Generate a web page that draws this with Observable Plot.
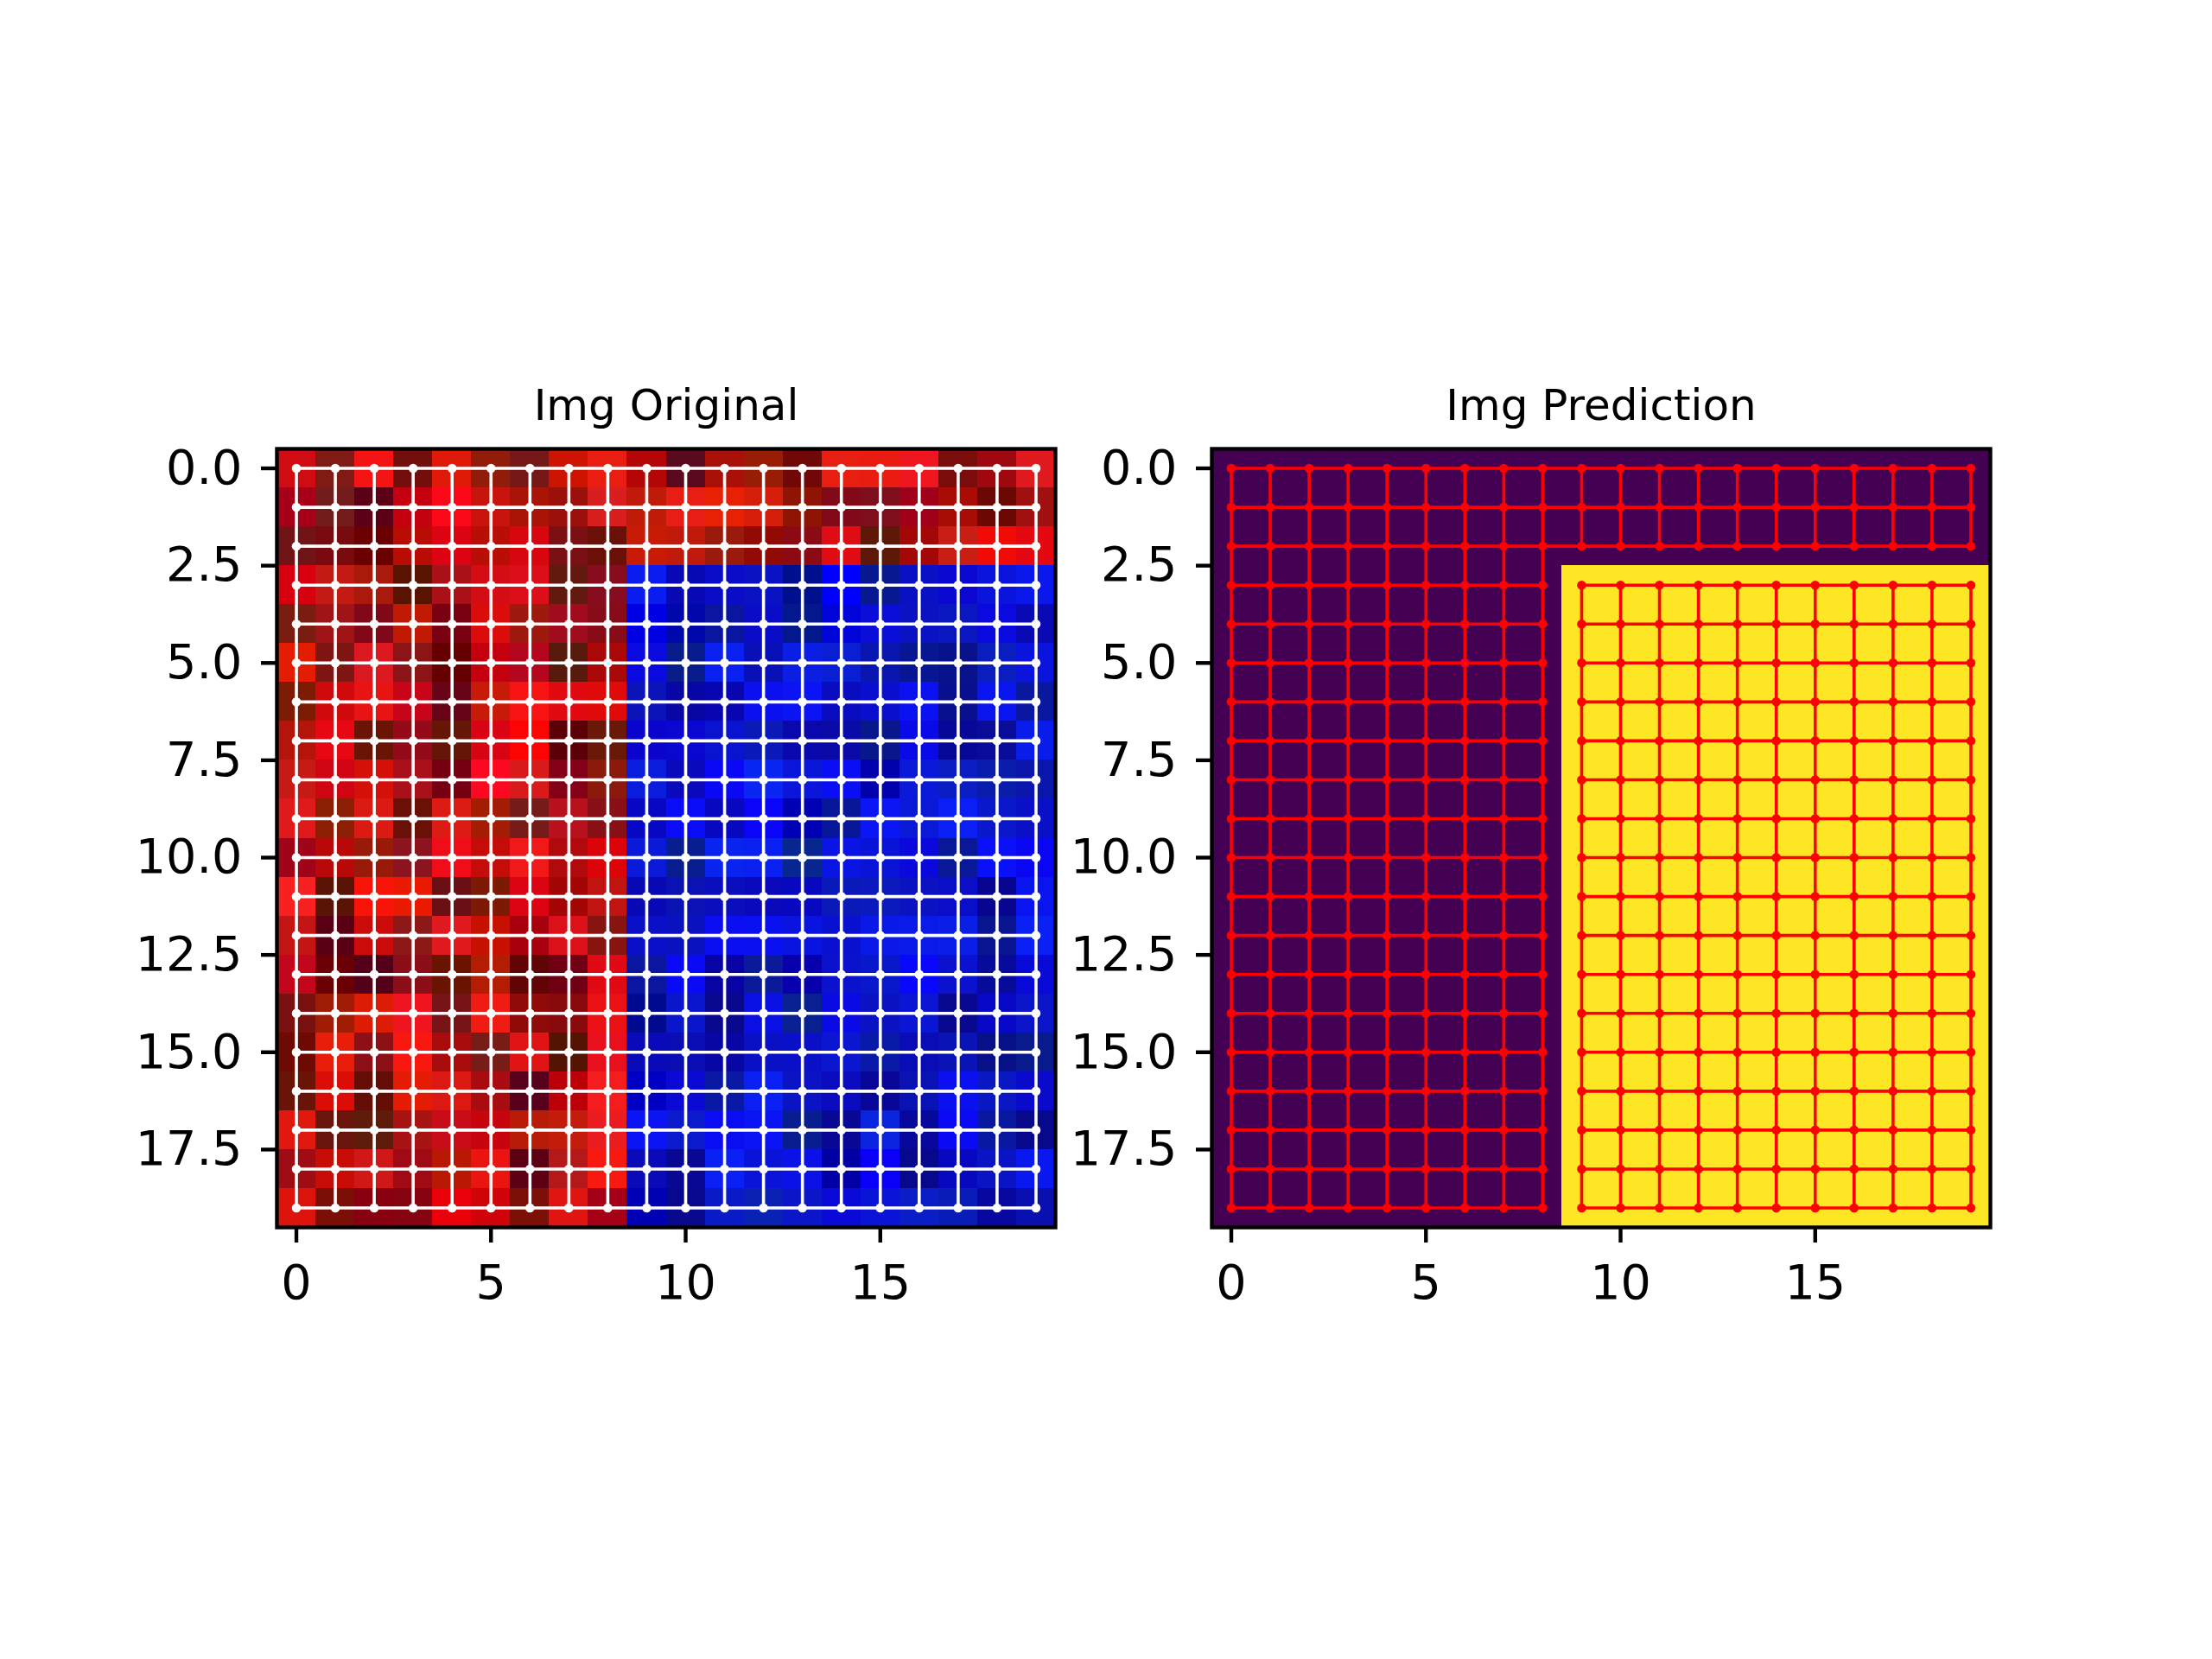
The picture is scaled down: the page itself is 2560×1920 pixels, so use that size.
<!DOCTYPE html>
<html><head><meta charset="utf-8">
<script src="https://cdn.jsdelivr.net/npm/d3@7"></script>
<script src="https://cdn.jsdelivr.net/npm/@observablehq/plot@0.6"></script>
<style>
html,body{margin:0;padding:0;background:#fff;}
#fig{position:relative;width:2560px;height:1920px;background:#fff;overflow:hidden;}
#fig svg{position:absolute;top:0;}
</style></head><body><div id="fig"></div>
<script>
const titles = ["Img Original", "Img Prediction"];
const xTicks = [0, 5, 10, 15];
const yTicks = [0, 2.5, 5, 7.5, 10, 12.5, 15, 17.5];

// Left image: RGB pixel colours, one string per row (20 x 20)
const originalPixels = [
"d00c12 801a14 f51414 720e0c e01a08 921c0a 761818 cc1400 ea1e10 b40606 5a0a1e a81008 991c04 700808 e81e10 ea1c12 f01620 7a0c0c a00810 e01a1e",
"a80018 721c1c 5c0018 c4000e fa0818 c8140c aa1406 9c100c d81e1e c01a08 e81e14 e82004 d41e0a 901404 820a18 7e0e1c a0001a a80c04 6c0804 a01010",
"701418 780a10 6a0000 b80c04 dc0412 b80e06 d8060e 7a1014 6a1008 c81a04 c01a0c 9a1a0c 920a04 8c0a14 e00c14 5e1808 a40806 c81e14 f00c04 e40810",
"d8000e c41a14 aa1a0c 581400 aa1018 d40c14 dc0e1a 621a0e 860c1e 0a1cf0 0808b4 0a0cc8 0a12c4 00108c 0000ff 081890 0a10c4 0a08d0 0a14dc 0a18ec",
"7a1c10 a01418 800818 c01a04 780010 dc0c0a 9e1a0e a00c1e 880c18 0000e4 0008ac 0a16a0 0a0cc8 04188e 0004d8 0a0ed8 0a12c4 0a16c0 0a0ae0 0a0ab4",
"e41c00 801614 dc1820 8a1416 660000 c4000e b4061c 581a0c aa0806 0a0ae0 081c8c 0a20f0 0a10b8 0a1ee4 0a1ed4 0a16b0 081694 08128c 0a1ec0 0a14dc",
"7c1c04 d00a0c e81414 c80418 680418 c81a08 f81414 e00a10 e00a0a 0a14b8 0806a4 0806b0 0a10f0 0a14f4 0a0cc0 0a0ece 0a12f2 081090 0a16f0 0a18a0",
"b4140a e80814 6a1406 940a18 661606 d80414 fc0404 5a0006 6a1808 0a04cc 0a08d0 0a14d0 0a1ab8 0808ac 0a0aa8 08188c 0a0ae8 080898 080c98 0a1cea",
"c81a14 d00412 d41008 aa101a 760012 fc0820 d81a1a 840016 8c1a0c 0a1cdc 0a0abc 0a08f4 0a26f2 0a16da 0a0ef4 0000ac 0a1ad8 0a1ec4 0a1cac 0a16ac",
"e01a1a 8c1e04 dc1a14 6a1006 dc1c14 a41c04 761a1a b8101c 8a1018 0808c4 0a0cf8 0808c0 0a04f8 0000b4 08169a 0a16f4 0a18d8 0a1ef6 0a18cc 0a10c8",
"a00418 b80808 9a1a0a 8c1420 f00c18 c40c0a f01818 b00a0c dc0408 0a1ad8 081e90 0a24f0 0a20f0 082690 0a14e4 0a14d8 0a08dc 081898 0a10f8 0a06f4",
"f82020 5a1406 f81408 ea1a00 6a1014 7c1a06 dc0412 a40606 c01410 0808b4 0a12b4 0a0ebc 0a0abc 0808c0 0a1ab8 0a1abc 0a12c2 0a0ec8 080690 0a14ee",
"c41414 5a0014 cc0c0a 8c1818 e01a1e c81000 a8000c dc1018 881410 0a10c8 0a12c0 0a0ef0 0a10f0 0a14e0 0a10d0 0a18e8 0a1ae8 0a1ee8 081490 0a20f4",
"c4061c 6a0006 54001a 8c0e18 6a1400 b41c04 600406 700014 e00a14 0a16a0 0a0af6 0804a4 0a1a98 0800ac 0a12ce 0a18cc 0a08fc 0a12d0 080a9a 0a0ad8",
"7a1010 a01c04 dc1c04 f01420 761418 f01c14 900a0a 880a0c ea1014 000a90 0a16cc 08088e 0a10e4 082090 0a0ae4 0a12c4 0a16d4 080890 0808c8 0a14c8",
"6e0a02 e81e0a 8c1016 f81810 a80c0c 781c18 e01414 541404 e8101c 0a0ab8 0a0cb4 0806a4 0a10c4 0a10c8 0a16d0 0a1aa8 0a0cb6 0a14b6 081088 081a8c",
"6a1408 dc0c06 640c06 e41c06 dc1812 a80c10 58001c bc000a f41c1c 0000c4 0a0ad4 0a18a6 0a20f2 0a14c4 0a0abe 080698 0a12b4 0a10f0 0a18c4 0a0acc",
"e0180e 6a140e 601c0a a81414 c80c18 c8040e b81c08 c41c0a ea1c20 0a14f4 0a1acc 0a0cf2 0a14f4 081e90 080894 0a24e0 08089c 0a0af4 0818a0 08088c",
"a00c14 c80c06 d01818 a00a14 b81804 ea1410 5e0014 b41818 f81a10 0a0ab8 080894 0a20f4 0a14d8 0a12e8 0000a4 0a00f8 08088c 0808c0 0a14c4 0a18f0",
"dc140c 7c0e08 880010 860412 ea0008 d00408 7c1008 e01410 a40018 0000b4 08088e 0a1ac6 0a22b4 0a16c8 0a0ad8 0a14d8 0a1ec8 0a1cb8 0808a0 0a10b0"
];

// Right image: predicted label per pixel (0 = purple, 1 = yellow)
const predictionLabels = [
"00000000000000000000",
"00000000000000000000",
"00000000000000000000",
"00000000011111111111",
"00000000011111111111",
"00000000011111111111",
"00000000011111111111",
"00000000011111111111",
"00000000011111111111",
"00000000011111111111",
"00000000011111111111",
"00000000011111111111",
"00000000011111111111",
"00000000011111111111",
"00000000011111111111",
"00000000011111111111",
"00000000011111111111",
"00000000011111111111",
"00000000011111111111",
"00000000011111111111"
];

const originalCells = originalPixels.flatMap((row, r) =>
  row.split(" ").map((hex, c) => ({r, c, color: "#" + hex})));
const predictionCells = predictionLabels.flatMap((row, r) =>
  row.split("").map((v, c) => ({r, c, label: +v})));

// grid-graph nodes and edges (edge kept when both ends are in the same group)
function gridGraph(cells, same) {
  const at = new Map(cells.map(d => [d.r + "," + d.c, d]));
  const edges = [];
  for (const d of cells) {
    const right = at.get(d.r + "," + (d.c + 1));
    const down = at.get((d.r + 1) + "," + d.c);
    if (right && same(d, right)) edges.push({r1: d.r, c1: d.c, r2: right.r, c2: right.c});
    if (down && same(d, down)) edges.push({r1: d.r, c1: d.c, r2: down.r, c2: down.c});
  }
  return edges;
}
const originalEdges = gridGraph(originalCells, () => true);
const predictionEdges = gridGraph(predictionCells, (a, b) => a.label === b.label);

const FRAME = 901;
function panel({cells, fill, color, edges, lineColor, title, left, width, marginLeft}) {
  const svg = Plot.plot({
    width, height: 1560,
    marginLeft, marginRight: width - marginLeft - FRAME,
    marginTop: 519, marginBottom: 1560 - 519 - FRAME,
    x: {domain: [-0.5, 19.5]},
    y: {domain: [-0.5, 19.5], reverse: true},
    color,
    style: {fontFamily: "DejaVu Sans", background: "transparent", overflow: "visible", color: "black"},
    marks: [
      Plot.rect(cells, {x1: d => d.c - 0.5, x2: d => d.c + 0.5, y1: d => d.r - 0.5, y2: d => d.r + 0.5,
        fill, shapeRendering: "crispEdges"}),
      Plot.link(edges, {x1: "c1", y1: "r1", x2: "c2", y2: "r2", stroke: lineColor, strokeWidth: 3.6}),
      Plot.dot(cells, {x: "c", y: "r", r: 5.3, fill: lineColor}),
      Plot.frame({stroke: "black", strokeWidth: 4.4}),
      Plot.axisX({ticks: xTicks, tickSize: 18, tickPadding: 25, fontSize: 55.6, strokeWidth: 4.4, label: null}),
      Plot.axisY({ticks: yTicks, tickFormat: d3.format(".1f"), tickSize: 18, tickPadding: 22, fontSize: 55.6, strokeWidth: 4.4, label: null}),
      Plot.text([title], {text: d => d, frameAnchor: "top", dy: -34, lineAnchor: "bottom", fontSize: 50, fill: "black"})
    ]
  });
  svg.style.left = left + "px";
  return svg;
}

const fig = document.getElementById("fig");
fig.appendChild(panel({
  cells: originalCells, fill: d => d.color, color: {type: "identity"},
  edges: originalEdges, lineColor: "white", title: titles[0],
  left: 0, width: 1240, marginLeft: 320
}));
fig.appendChild(panel({
  cells: predictionCells, fill: d => d.label, color: {type: "linear", scheme: "viridis", domain: [0, 1]},
  edges: predictionEdges, lineColor: "#ff0000", title: titles[1],
  left: 1240, width: 1320, marginLeft: 162
}));
</script>
</body></html>
